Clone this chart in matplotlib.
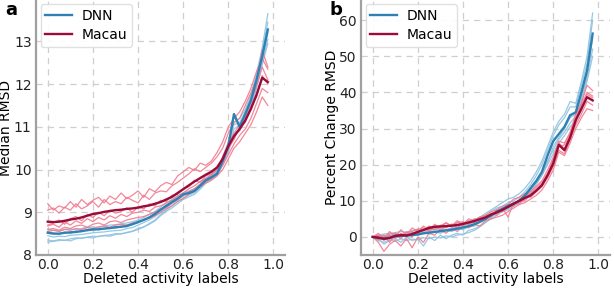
import numpy as np
import matplotlib
matplotlib.use('Agg')
import matplotlib.pyplot as plt

# fraction of deleted activity labels (shared x grid)
deleted = [0.0, 0.025, 0.05, 0.075, 0.1, 0.125, 0.15, 0.175, 0.2, 0.225,
           0.25, 0.275, 0.3, 0.325, 0.35, 0.375, 0.4, 0.425, 0.45, 0.475,
           0.5, 0.525, 0.55, 0.575, 0.6, 0.625, 0.65, 0.675, 0.7, 0.725,
           0.75, 0.775, 0.8, 0.825, 0.85, 0.875, 0.9, 0.925, 0.95, 0.975]

# panel a: median RMSD
dnn_rmsd = [8.52, 8.50, 8.50, 8.52, 8.53, 8.54, 8.56, 8.58, 8.60, 8.60,
            8.62, 8.63, 8.65, 8.66, 8.68, 8.72, 8.77, 8.82, 8.88, 8.96,
            9.06, 9.15, 9.24, 9.32, 9.42, 9.45, 9.50, 9.62, 9.75, 9.82,
            9.90, 10.20, 10.55, 11.30, 11.00, 11.30, 11.62, 12.10, 12.65, 13.28]
macau_rmsd = [8.78, 8.77, 8.78, 8.80, 8.83, 8.85, 8.88, 8.92, 8.96, 8.98,
              9.01, 9.03, 9.05, 9.06, 9.08, 9.09, 9.11, 9.14, 9.16, 9.20,
              9.24, 9.30, 9.36, 9.45, 9.54, 9.63, 9.72, 9.80, 9.88, 9.95,
              10.05, 10.25, 10.55, 10.78, 10.95, 11.15, 11.42, 11.75, 12.15, 12.05]

dnn_rmsd_runs = [
    [8.35, 8.33, 8.36, 8.34, 8.38, 8.40, 8.39, 8.42, 8.44, 8.43, 8.46, 8.47, 8.50, 8.49, 8.53, 8.56, 8.62, 8.66, 8.72, 8.80,
     8.92, 9.02, 9.10, 9.20, 9.30, 9.36, 9.42, 9.54, 9.68, 9.76, 9.88, 10.15, 10.45, 10.80, 10.95, 11.20, 11.50, 11.95, 12.50, 13.05],
    [8.60, 8.58, 8.56, 8.60, 8.61, 8.59, 8.62, 8.65, 8.66, 8.64, 8.68, 8.70, 8.71, 8.73, 8.75, 8.78, 8.82, 8.88, 8.95, 9.02,
     9.12, 9.22, 9.30, 9.38, 9.46, 9.50, 9.55, 9.66, 9.80, 9.88, 9.98, 10.30, 10.65, 11.10, 11.20, 11.40, 11.75, 12.25, 12.85, 13.65],
    [8.45, 8.42, 8.44, 8.43, 8.46, 8.47, 8.48, 8.50, 8.52, 8.53, 8.54, 8.56, 8.57, 8.58, 8.62, 8.64, 8.70, 8.76, 8.82, 8.90,
     9.00, 9.10, 9.20, 9.28, 9.38, 9.44, 9.48, 9.58, 9.72, 9.80, 9.92, 10.22, 10.50, 10.95, 11.05, 11.25, 11.55, 12.05, 12.60, 13.20],
    [8.30, 8.32, 8.34, 8.35, 8.33, 8.38, 8.40, 8.41, 8.40, 8.44, 8.45, 8.44, 8.48, 8.50, 8.52, 8.55, 8.60, 8.65, 8.74, 8.82,
     8.95, 9.05, 9.15, 9.25, 9.33, 9.40, 9.46, 9.58, 9.70, 9.78, 9.86, 10.10, 10.42, 10.85, 10.90, 11.15, 11.45, 11.90, 12.45, 12.95],
    [8.55, 8.52, 8.48, 8.54, 8.50, 8.56, 8.54, 8.60, 8.57, 8.62, 8.60, 8.64, 8.62, 8.68, 8.66, 8.74, 8.75, 8.84, 8.86, 8.98,
     9.05, 9.18, 9.22, 9.34, 9.40, 9.48, 9.52, 9.65, 9.74, 9.86, 9.95, 10.25, 10.60, 11.05, 11.10, 11.35, 11.68, 12.15, 12.75, 13.45],
]
macau_rmsd_runs = [
    [9.20, 9.05, 9.15, 9.10, 9.25, 9.12, 9.30, 9.18, 9.28, 9.35, 9.22, 9.38, 9.30, 9.45, 9.32, 9.40, 9.50, 9.35, 9.55, 9.48,
     9.62, 9.70, 9.65, 9.85, 9.95, 10.05, 9.98, 10.15, 10.10, 10.20, 10.40, 10.65, 11.00, 11.20, 11.35, 11.60, 11.90, 12.30, 12.60, 12.35],
    [9.05, 9.10, 8.98, 9.12, 9.05, 9.20, 9.08, 9.15, 9.25, 9.12, 9.30, 9.18, 9.25, 9.20, 9.35, 9.28, 9.22, 9.40, 9.30, 9.45,
     9.50, 9.48, 9.62, 9.70, 9.80, 9.90, 10.02, 9.95, 10.05, 10.15, 10.30, 10.50, 10.85, 11.10, 11.20, 11.50, 11.80, 12.10, 12.80, 12.40],
    [8.70, 8.75, 8.82, 8.72, 8.85, 8.90, 8.80, 8.95, 8.88, 9.00, 8.92, 9.05, 8.98, 9.02, 9.10, 9.00, 9.12, 9.08, 9.20, 9.15,
     9.28, 9.25, 9.40, 9.42, 9.55, 9.60, 9.75, 9.70, 9.85, 9.90, 10.00, 10.20, 10.50, 10.70, 11.00, 11.10, 11.50, 11.70, 12.20, 12.00],
    [8.60, 8.62, 8.58, 8.65, 8.62, 8.68, 8.70, 8.65, 8.72, 8.75, 8.70, 8.78, 8.80, 8.76, 8.82, 8.85, 8.88, 8.90, 8.95, 9.00,
     9.08, 9.12, 9.22, 9.30, 9.40, 9.48, 9.55, 9.65, 9.72, 9.80, 9.92, 10.10, 10.35, 10.60, 10.80, 10.95, 11.20, 11.55, 11.90, 11.80],
    [8.55, 8.58, 8.55, 8.60, 8.58, 8.62, 8.60, 8.64, 8.62, 8.66, 8.68, 8.65, 8.70, 8.72, 8.70, 8.75, 8.78, 8.82, 8.86, 8.92,
     9.00, 9.08, 9.15, 9.25, 9.32, 9.42, 9.50, 9.60, 9.68, 9.75, 9.85, 10.00, 10.25, 10.50, 10.65, 10.85, 11.05, 11.35, 11.70, 11.50],
    [8.68, 8.72, 8.65, 8.78, 8.70, 8.80, 8.74, 8.85, 8.78, 8.88, 8.82, 8.92, 8.86, 8.95, 8.90, 8.98, 9.00, 9.05, 9.02, 9.12,
     9.15, 9.22, 9.28, 9.38, 9.45, 9.55, 9.62, 9.72, 9.78, 9.88, 10.00, 10.30, 10.60, 10.85, 11.05, 11.25, 11.60, 11.95, 12.40, 12.10],
]

# panel b: percent change RMSD
dnn_pct = [0.0, -0.3, -0.5, -0.2, 0.2, 0.3, 0.4, 0.5, 0.7, 1.0,
           1.2, 1.4, 1.6, 1.8, 2.0, 2.3, 2.6, 3.0, 3.5, 4.2,
           5.0, 6.0, 7.0, 7.8, 8.6, 9.3, 10.0, 11.5, 13.5, 15.5,
           18.0, 22.5, 26.5, 28.5, 30.5, 33.7, 34.5, 40.0, 46.0, 56.3]
macau_pct = [0.0, -0.2, -0.5, -0.3, 0.3, 0.5, 0.4, 0.8, 1.4, 1.9,
             2.5, 2.8, 2.9, 3.0, 3.1, 3.3, 3.6, 4.0, 4.4, 4.9,
             5.4, 6.2, 6.8, 7.5, 8.3, 9.2, 10.0, 10.8, 11.5, 12.8,
             14.3, 17.0, 20.3, 25.5, 24.0, 27.5, 32.3, 35.5, 38.7, 37.8]

dnn_pct_runs = [
    [0.0, -1.0, -1.5, -0.8, -1.2, -0.5, -1.0, -0.6, -0.8, -0.2, -0.5, 0.0, -0.3, 0.3, 0.0, 0.5, 0.8, 1.2, 1.8, 2.8,
     4.0, 5.0, 6.0, 7.0, 7.5, 8.5, 9.5, 11.0, 13.0, 15.0, 17.5, 21.0, 24.0, 27.0, 29.0, 31.5, 33.5, 38.0, 44.0, 52.0],
    [0.0, 0.5, 0.8, 1.0, 1.2, 1.5, 1.3, 1.8, 2.0, 2.2, 2.5, 2.4, 2.8, 3.0, 3.2, 3.5, 3.8, 4.2, 4.8, 5.5,
     6.5, 7.5, 8.5, 9.5, 10.5, 11.0, 12.0, 13.5, 15.5, 18.0, 21.0, 25.0, 29.0, 32.0, 34.0, 37.5, 37.0, 43.0, 50.0, 62.0],
    [0.0, 0.3, -0.2, 0.5, 0.0, 0.8, 0.2, 1.0, 0.4, 1.2, 0.8, 1.5, 1.0, 1.8, 1.5, 2.2, 2.0, 2.8, 3.0, 4.0,
     4.8, 5.8, 6.5, 7.5, 8.0, 9.0, 9.8, 11.0, 13.0, 15.0, 17.0, 20.5, 25.0, 27.5, 30.0, 33.0, 34.0, 39.0, 45.0, 55.0],
    [0.0, -0.5, -2.0, -1.0, -0.5, -1.5, 0.0, -1.0, -0.5, -2.5, 0.0, -1.0, 0.5, -0.5, 0.5, 1.0, 0.5, 1.8, 2.2, 3.0,
     4.0, 5.5, 6.5, 7.0, 8.0, 8.8, 9.5, 10.5, 12.5, 14.5, 17.0, 20.0, 23.0, 26.0, 28.0, 30.5, 32.0, 37.0, 43.0, 50.0],
    [0.0, 0.2, 0.5, 0.3, 0.8, 0.6, 1.0, 1.2, 1.5, 1.3, 1.8, 2.0, 2.2, 2.0, 2.5, 2.8, 3.2, 3.5, 4.2, 5.0,
     6.0, 7.0, 8.0, 8.5, 9.5, 10.0, 11.0, 12.5, 14.5, 17.0, 20.0, 24.0, 28.0, 31.0, 33.0, 36.0, 36.0, 42.0, 48.0, 60.0],
]
macau_pct_runs = [
    [0.0, 1.0, -0.5, 1.5, 0.0, 2.0, 0.5, 2.5, 1.5, 3.0, 2.0, 3.5, 2.5, 4.0, 3.0, 4.5, 3.5, 5.0, 4.5, 5.5,
     6.0, 7.0, 7.5, 8.5, 9.0, 10.5, 11.0, 12.0, 12.5, 14.0, 15.5, 18.5, 22.0, 26.5, 26.0, 29.0, 34.0, 37.0, 42.0, 40.5],
    [0.0, -1.5, -4.0, -2.0, -1.0, -2.5, -0.5, -3.0, 0.0, -1.5, 1.0, 0.5, 2.0, 1.0, 2.5, 1.5, 3.0, 2.5, 3.5, 3.0,
     4.5, 5.0, 5.5, 6.0, 7.0, 8.0, 9.0, 9.5, 10.5, 11.5, 13.0, 15.5, 18.5, 23.5, 22.5, 26.0, 30.0, 33.0, 35.5, 35.0],
    [0.0, 0.5, 0.0, 0.8, 1.0, 0.5, 1.2, 1.5, 2.2, 1.8, 3.0, 2.5, 3.2, 3.8, 3.0, 4.0, 4.2, 3.5, 5.0, 4.8,
     6.0, 5.5, 7.5, 7.0, 9.0, 8.5, 10.5, 11.5, 12.0, 13.5, 15.0, 17.5, 21.5, 25.0, 25.5, 28.5, 33.0, 36.5, 40.0, 39.0],
    [0.0, -0.8, 0.5, -1.5, 0.8, -0.5, 1.5, 0.0, 2.0, 2.5, 1.5, 3.0, 2.0, 2.8, 3.5, 2.5, 4.0, 3.8, 4.0, 5.5,
     5.0, 6.5, 6.0, 8.0, 5.5, 9.5, 9.0, 11.0, 11.0, 12.5, 14.0, 16.5, 19.5, 24.0, 23.0, 27.0, 31.0, 34.0, 37.5, 36.5],
    [0.0, 0.2, -1.0, 0.5, -0.5, 1.0, 0.0, 1.2, 1.0, 2.0, 2.2, 2.0, 3.0, 2.5, 3.5, 3.5, 3.0, 4.5, 4.0, 5.0,
     5.5, 6.5, 7.0, 7.0, 8.5, 9.0, 10.0, 10.0, 11.8, 13.0, 14.5, 17.5, 20.5, 26.0, 24.5, 28.0, 32.5, 35.0, 39.5, 38.5],
]

DNN_C = '#2f80b3'
DNN_LIGHT = '#8dc2e0'
MACAU_C = '#9a0c38'
MACAU_LIGHT = '#f27a8e'

plt.rcParams['font.family'] = 'DejaVu Sans'
plt.rcParams['font.size'] = 10

fig = plt.figure(figsize=(6.14, 2.88), dpi=100)
ax_a = fig.add_axes([0.0594, 0.1146, 0.4044, 0.8854])
ax_b = fig.add_axes([0.5886, 0.1146, 0.4042, 0.8854])


def draw(ax, dnn, macau, dnn_runs, macau_runs, ylabel, ylab_x):
    for run in dnn_runs:
        ax.plot(deleted, run, color=DNN_LIGHT, lw=0.9, alpha=0.9, zorder=2)
    for run in macau_runs:
        ax.plot(deleted, run, color=MACAU_LIGHT, lw=0.9, alpha=0.9, zorder=3)
    ax.plot(deleted, dnn, color=DNN_C, lw=1.7, label='DNN', zorder=4)
    ax.plot(deleted, macau, color=MACAU_C, lw=1.7, label='Macau', zorder=5)
    ax.set_xlim(-0.05, 1.05)
    ax.set_xticks([0.0, 0.2, 0.4, 0.6, 0.8, 1.0])
    ax.set_xlabel('Deleted activity labels')
    ax.xaxis.set_label_coords(0.5, -0.096)
    ax.xaxis.label.set_va('center')
    ax.set_ylabel(ylabel)
    ax.yaxis.set_label_coords(ylab_x, 0.5)
    ax.yaxis.label.set_va('center')
    ax.grid(True, ls=(0, (5, 4)), color='#cfcfcf', lw=0.9, zorder=0)
    ax.set_axisbelow(True)
    for side in ('top', 'right'):
        ax.spines[side].set_visible(False)
    for side in ('left', 'bottom'):
        ax.spines[side].set_color('#a0a0a0')
        ax.spines[side].set_linewidth(1.6)
    ax.tick_params(axis='x', length=0, pad=2.5, labelsize=10, colors='#222222')
    ax.tick_params(axis='y', length=0, pad=3.5, labelsize=10, colors='#222222')
    ax.legend(loc='upper left', fontsize=10, frameon=True, borderaxespad=0.3,
              borderpad=0.35, handlelength=1.9, handletextpad=0.7,
              labelspacing=0.35, edgecolor='#dddddd', framealpha=0.9)


draw(ax_a, dnn_rmsd, macau_rmsd, dnn_rmsd_runs, macau_rmsd_runs, 'Median RMSD', -0.122)
ax_a.set_ylim(8, 13.97)
ax_a.set_yticks([8, 9, 10, 11, 12, 13])

draw(ax_b, dnn_pct, macau_pct, dnn_pct_runs, macau_pct_runs, 'Percent Change RMSD', -0.118)
ax_b.set_ylim(-5, 65.6)
ax_b.set_yticks([0, 10, 20, 30, 40, 50, 60])

fig.text(0.008, 0.995, 'a', fontsize=13, fontweight='bold', va='top')
fig.text(0.537, 0.995, 'b', fontsize=13, fontweight='bold', va='top')

fig.savefig('out.png', dpi=100)
